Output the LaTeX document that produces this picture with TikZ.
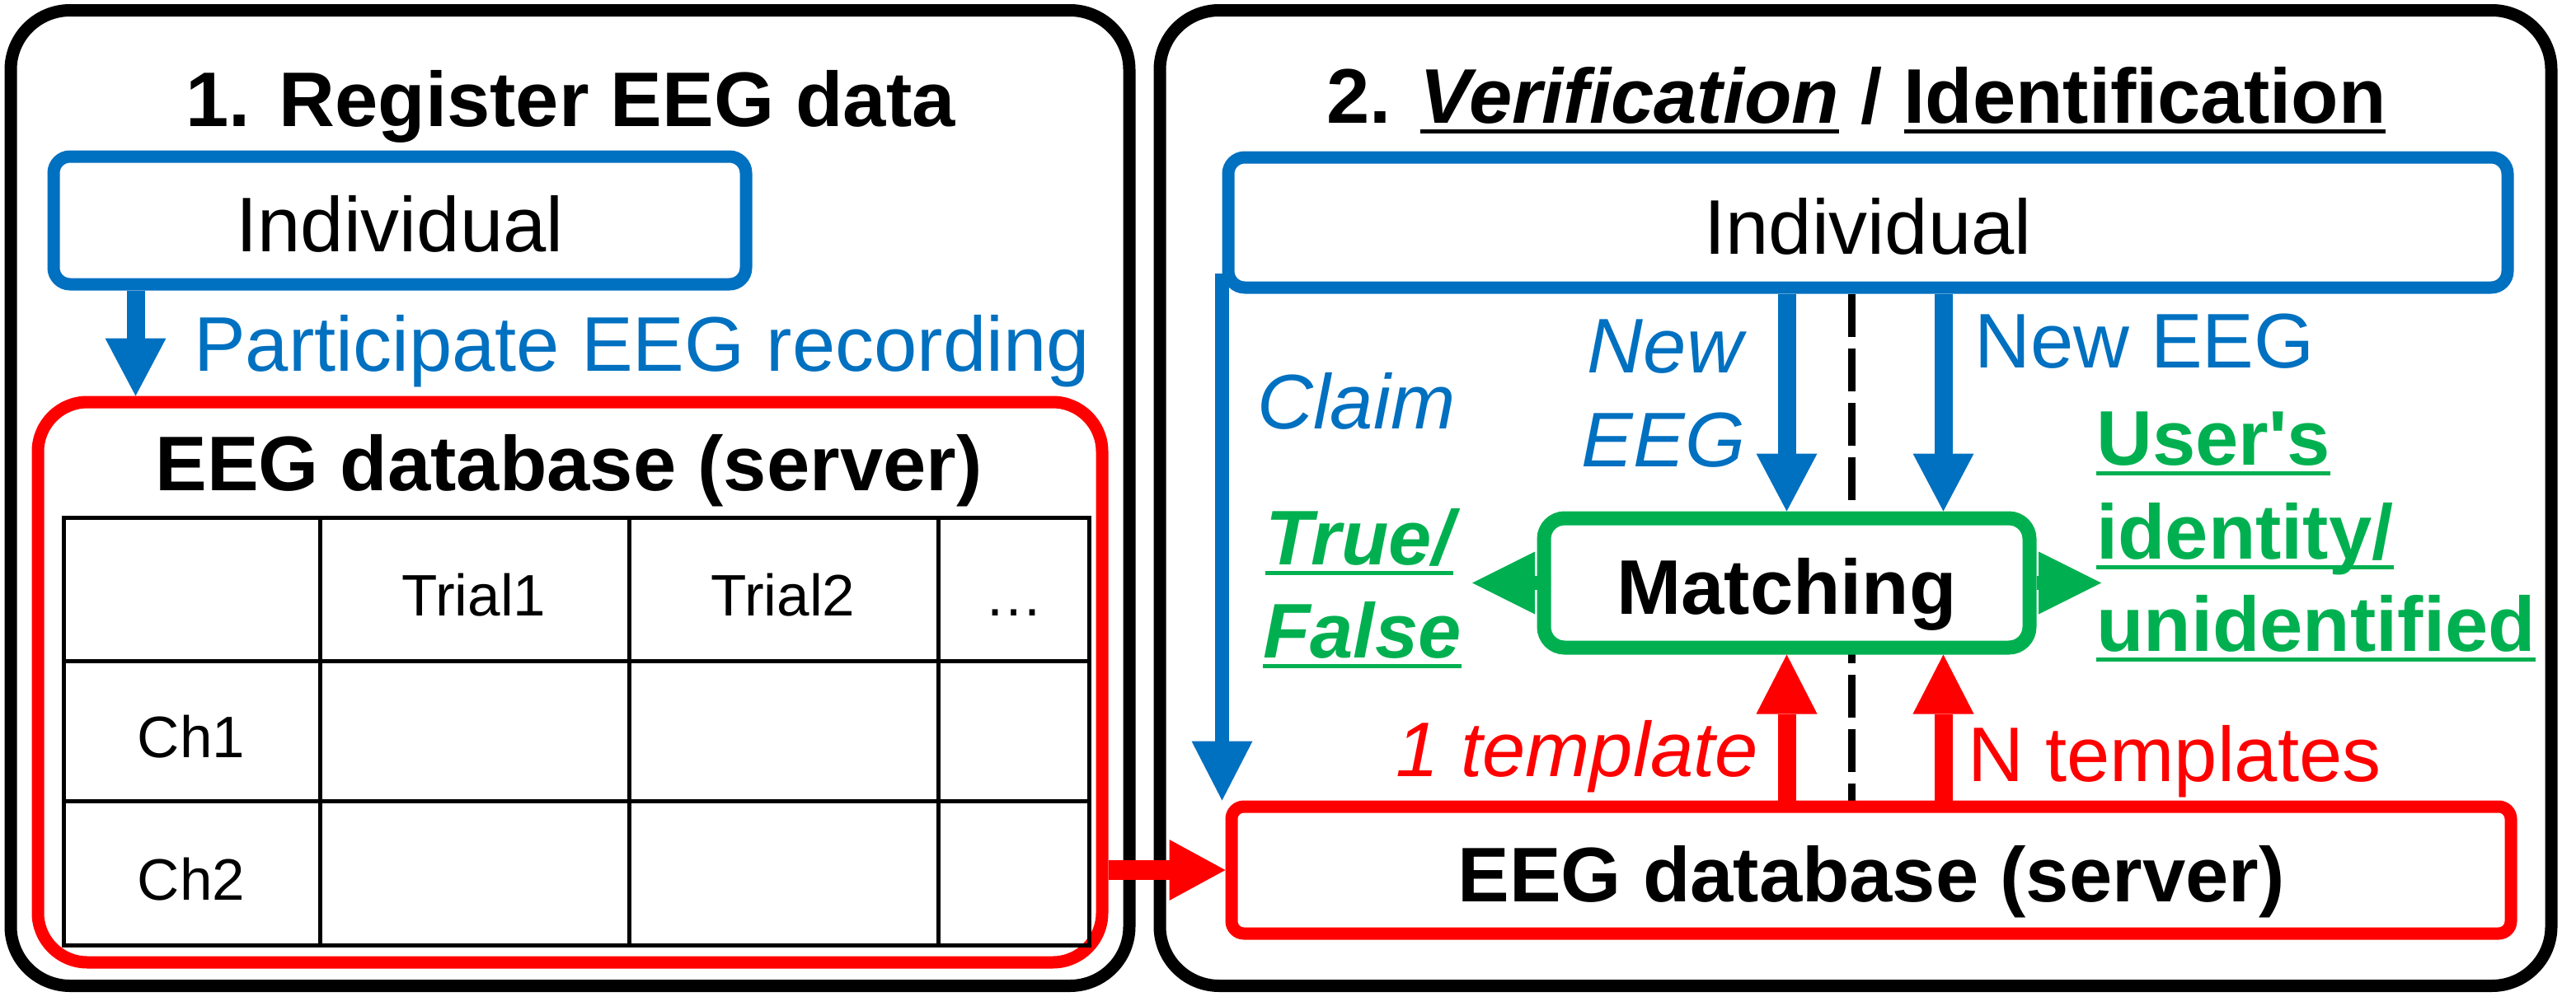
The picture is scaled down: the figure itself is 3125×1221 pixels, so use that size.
\documentclass[tikz,border=0pt]{standalone}
\usepackage{fontspec}
\setmainfont{Liberation Sans}
\usetikzlibrary{arrows.meta}
\definecolor{myblue}{HTML}{0070C0}
\definecolor{myred}{HTML}{FF0000}
\definecolor{mygreen}{HTML}{00B050}
\newsavebox\ulbox
\newcommand\ulx[1]{\sbox\ulbox{#1}\rlap{\rule[-12.5pt]{\wd\ulbox}{5pt}}\usebox\ulbox}
\pgfdeclarelayer{bg}
\pgfsetlayers{bg,main}
\tikzset{
  big/.style={font=\fontsize{94}{113}\selectfont},
  cellf/.style={font=\fontsize{71}{85}\selectfont, inner sep=0pt, text height=64pt, text depth=0pt, anchor=center},
  lbl/.style={big, inner sep=0pt},
  panel/.style={draw=black, line width=15pt, rounded corners=72pt},
  boxtxt/.style={big, inner sep=0pt, text height=76pt, text depth=0pt, fill=white},
  bluebox/.style={boxtxt, draw=myblue, line width=15pt, rounded corners=20pt},
  redbox/.style={boxtxt, draw=myred, line width=15pt, rounded corners=15pt},
  greenbox/.style={boxtxt, draw=mygreen, line width=17pt, rounded corners=25pt},
  tip/.style={-{Triangle[length=#1, width=74pt, line width=0pt]}},
  barrow/.style={draw=myblue, line width=22pt, tip=70pt},
  rarrow/.style={draw=myred, line width=22pt, tip=72pt},
  garrow/.style={draw=mygreen, line width=17pt, -{Triangle[length=76pt, width=76pt, line width=0pt]}},
  gridline/.style={draw=black, line width=5pt},
}
\begin{document}
\begin{tikzpicture}[x=1pt, y=-1pt]
\useasboundingbox (0,0) rectangle (3125,1221);

% panels
\node[panel, minimum width=1357pt, minimum height=1184pt] (p1) at (691.5,604.5) {};
\node[panel, minimum width=1688pt, minimum height=1184pt] (p2) at (2251,604.5) {};

% ---------- left panel ----------
\node[lbl, anchor=base] (t1) at (692,153) {\bfseries 1. Register EEG data};
\node[bluebox, minimum width=840pt, minimum height=155pt] (ind1) at (485,267.5) {Individual};
\node[draw=myred, line width=15pt, rounded corners=60pt, minimum width=1291pt, minimum height=680pt] (db1) at (691.5,828) {};
\node[lbl, anchor=base] (db1t) at (690,595) {\bfseries EEG database (server)};
\draw[barrow] ([xshift=107pt]ind1.south west) -- ([xshift=107pt]ind1.south west |- db1.north);
\node[lbl, anchor=base west, text=myblue] (part) at (235,450) {Participate EEG recording};

% table
\draw[gridline] (77,628) rectangle (1321,1147);
\draw[gridline] (77,802) -- (1321,802);
\draw[gridline] (77,972) -- (1321,972);
\draw[gridline] (388,628) -- (388,1147);
\draw[gridline] (763,628) -- (763,1147);
\draw[gridline] (1138,628) -- (1138,1147);
\node[cellf] (c11) at (575,715) {Trial1};
\node[cellf] (c12) at (950,715) {Trial2};
\node[cellf] (c13) at (1230,715) {…};
\node[cellf] (c21) at (232,887) {Ch1};
\node[cellf] (c31) at (232,1060) {Ch2};

% ---------- right panel ----------
\node[lbl, anchor=base] (t2) at (2252,149) {\bfseries 2. \ulx{\textit{Verification}} / \ulx{Identification}};
\node[bluebox, minimum width=1552pt, minimum height=158pt] (ind2) at (2266,270) {Individual};
\node[redbox, minimum width=1552pt, minimum height=154pt] (db2) at (2270,1056) {\bfseries EEG database (server)};

\begin{pgfonlayer}{bg}
\draw[black, line width=9pt, dash pattern=on 52pt off 14pt] ([xshift=-20pt]ind2.south) -- ([xshift=-20pt]ind2.south |- db2.north);
\end{pgfonlayer}

\node[greenbox, minimum width=589pt, minimum height=157pt] (match) at (2167.5,707.5) {\bfseries Matching};

% claim arrow
\draw[myblue, line width=17pt, tip=72pt] ([yshift=25pt]ind2.south west) -- (ind2.south west |- db2.north);
% new EEG arrows
\draw[barrow] (ind2.south -| match.north) -- (match.north);
\draw[barrow] ([xshift=190pt]match.north |- ind2.south) -- ([xshift=190pt]match.north);
% template arrows
\draw[rarrow] (db2.north -| match.south) -- (match.south);
\draw[rarrow] ([xshift=190pt]match.south |- db2.north) -- ([xshift=190pt]match.south);
% left db to right db
\draw[draw=myred, line width=24pt, -{Triangle[length=68pt, width=74pt, line width=0pt]}] (db1.east |- db2.west) -- (db2.west);
% result arrowheads
\coordinate (tfL) at (1786,707.5);
\coordinate (idR) at (2549,707.5);
\draw[garrow] (match.west) -- (tfL);
\draw[garrow] (match.east) -- (idR);

% labels
\node[lbl, anchor=base west, text=myblue] (claim) at (1525,520) {\itshape Claim};
\node[lbl, anchor=base, text=myblue] (new1) at (2020,452) {\itshape New};
\node[lbl, anchor=base, text=myblue] (eeg1) at (2018,566) {\itshape EEG};
\node[lbl, anchor=base west, text=myblue] (new2) at (2395,446) {New EEG};
\node[lbl, anchor=base east, text=myred] (tmpl1) at (2133,942) {\itshape 1 template};
\node[lbl, anchor=base west, text=myred] (tmplN) at (2387,948) {N templates};
\node[lbl, anchor=base west, text=mygreen] (tf1) at (1535,685) {\bfseries\itshape \ulx{True/}};
\node[lbl, anchor=base west, text=mygreen] (tf2) at (1532,798) {\bfseries\itshape \ulx{False}};
\node[lbl, anchor=base west, text=mygreen] (id1) at (2543,564) {\bfseries \ulx{User\textquotesingle s}};
\node[lbl, anchor=base west, text=mygreen] (id2) at (2543,678) {\bfseries \ulx{identity/}};
\node[lbl, anchor=base west, text=mygreen] (id3) at (2543,790) {\bfseries \ulx{unidentified}};
\end{tikzpicture}
\end{document}
